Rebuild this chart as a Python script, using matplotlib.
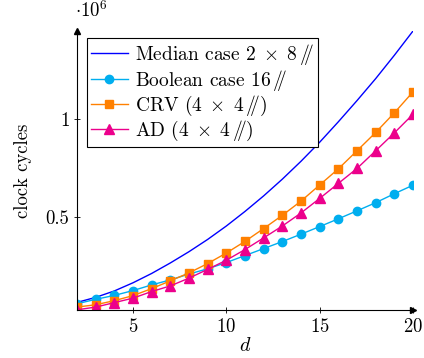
import numpy as np
import matplotlib
matplotlib.use("Agg")
import matplotlib.pyplot as plt

# --- data (values in units of 10^6 clock cycles) ---
d = list(range(2, 21))
median_case = [0.059, 0.085, 0.118, 0.160, 0.208, 0.262, 0.320, 0.383, 0.452, 0.527,
               0.607, 0.693, 0.785, 0.883, 0.988, 1.097, 1.210, 1.330, 1.455]
boolean_case = [0.052, 0.075, 0.095, 0.120, 0.149, 0.175, 0.205, 0.232, 0.264, 0.300,
                0.336, 0.372, 0.410, 0.449, 0.489, 0.530, 0.572, 0.618, 0.662]
crv = [0.035, 0.047, 0.068, 0.094, 0.130, 0.170, 0.211, 0.259, 0.313, 0.373,
       0.439, 0.507, 0.580, 0.663, 0.746, 0.839, 0.933, 1.034, 1.142]
ad = [0.021, 0.035, 0.058, 0.081, 0.115, 0.144, 0.184, 0.229, 0.276, 0.331,
      0.391, 0.452, 0.519, 0.594, 0.671, 0.748, 0.839, 0.931, 1.027]

labels = [r"Median case $2\;\times\;8\,/\!\!/$",
          r"Boolean case $16\,/\!\!/$",
          r"CRV $(4\;\times\;4\,/\!\!/)$",
          r"AD $(4\;\times\;4\,/\!\!/)$"]

plt.rcParams["font.family"] = "serif"
plt.rcParams["font.serif"] = ["cmr10", "DejaVu Serif"]
plt.rcParams["mathtext.fontset"] = "cm"
plt.rcParams["axes.formatter.use_mathtext"] = True

fig = plt.figure(figsize=(4.24, 3.58), dpi=100)
ax = fig.add_axes([77 / 424, 1 - 310 / 358, (413 - 77) / 424, (310 - 31) / 358])

ax.plot(d, median_case, color="#0000FF", lw=1.0, label=labels[0])
ax.plot(d, boolean_case, color="#00AEEF", lw=1.0, marker="o", ms=6, label=labels[1])
ax.plot(d, crv, color="#FF8000", lw=1.0, marker="s", ms=5.4, label=labels[2])
ax.plot(d, ad, color="#EC008C", lw=1.0, marker="^", ms=6.6, label=labels[3])

ax.set_xlim(2, 20)
ax.set_ylim(0.02, 1.455)
ax.set_xticks([5, 10, 15, 20])
ax.set_yticks([0.5, 1])
ax.set_yticklabels(["0.5", "1"])
ax.tick_params(direction="inout", length=5, width=0.6, labelsize=13.5, pad=3)

for s in ["top", "right"]:
    ax.spines[s].set_visible(False)
for s in ["left", "bottom"]:
    ax.spines[s].set_linewidth(0.8)

# arrow heads at the axis ends
ax.plot(1, 0, marker=">", color="black", ms=4, transform=ax.transAxes, clip_on=False)
ax.plot(0, 1, marker="^", color="black", ms=4, transform=ax.transAxes, clip_on=False)

ax.text(-0.005, 1.035, r"$\cdot 10^{6}$", transform=ax.transAxes, fontsize=13.5,
        ha="left", va="bottom")

ax.set_xlabel(r"$d$", fontsize=14.5, labelpad=1)
ax.set_ylabel("clock cycles", fontsize=13.5, labelpad=10)

leg = ax.legend(loc="upper left", bbox_to_anchor=(0.03, 0.975), fontsize=14,
                fancybox=False, edgecolor="black", framealpha=1,
                handlelength=1.9, handletextpad=0.35, borderpad=0.2, labelspacing=0.05,
                borderaxespad=0)
leg.get_frame().set_linewidth(0.8)

fig.savefig("out.png", dpi=100)
